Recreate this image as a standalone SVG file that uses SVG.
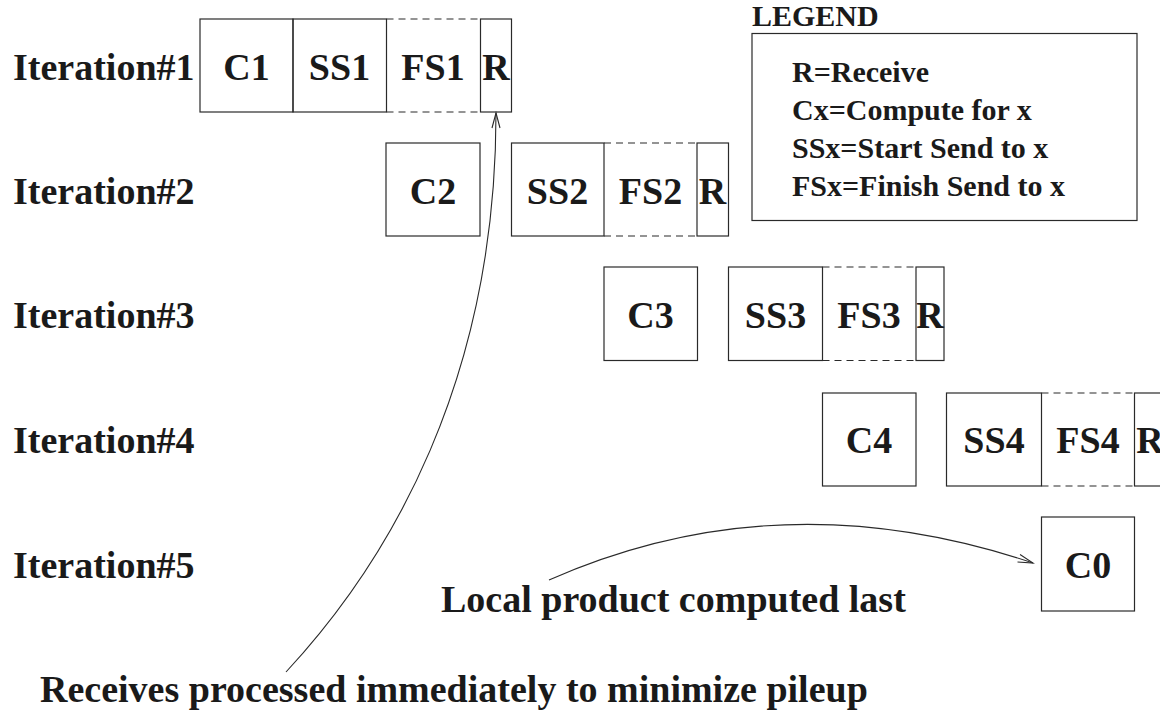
<svg xmlns="http://www.w3.org/2000/svg" width="1160" height="715" viewBox="0 0 1160 715">
  <style>
    .bg { fill: #ffffff; }
    .box { fill: none; stroke: #2a2a2a; stroke-width: 1.2; }
    .dash { fill: none; stroke: #2a2a2a; stroke-width: 1.2; stroke-dasharray: 7 5; }
    .lbl { font-family: "Liberation Serif", "Times New Roman", serif; font-weight: bold; font-size: 38px; fill: #1a1a1a; }
    .mid { text-anchor: middle; }
    .leg { font-family: "Liberation Serif", "Times New Roman", serif; font-weight: bold; font-size: 30px; fill: #1a1a1a; }
    .conn { fill: none; stroke: #2a2a2a; stroke-width: 1.1; }
  </style>
  <defs>
    <marker id="openArrow" markerUnits="userSpaceOnUse" markerWidth="18" markerHeight="10" refX="15" refY="4" orient="auto" overflow="visible">
      <path d="M0,0 L15,4 L0,8" fill="none" stroke="#2a2a2a" stroke-width="1.1"/>
    </marker>
  </defs>

  <rect class="bg" x="0" y="0" width="1160" height="715"/>

  <!-- row labels -->
  <g id="row-labels">
    <text class="lbl" x="13" y="80">Iteration#1</text>
    <text class="lbl" x="13" y="204">Iteration#2</text>
    <text class="lbl" x="13" y="328">Iteration#3</text>
    <text class="lbl" x="13" y="453">Iteration#4</text>
    <text class="lbl" x="13" y="578">Iteration#5</text>
  </g>

  <!-- iteration 1 -->
  <g id="c1"><rect class="box" x="200" y="19" width="93" height="93"/><text class="lbl mid" x="246.5" y="80">C1</text></g>
  <g id="ss1"><rect class="box" x="293" y="19" width="93.5" height="93"/><text class="lbl mid" x="339.5" y="80">SS1</text></g>
  <g id="fs1"><path class="dash" d="M386.5,19 H480.5 M386.5,112 H480.5"/><text class="lbl mid" x="433" y="80">FS1</text></g>
  <g id="r1"><rect class="box" x="480.5" y="19" width="31" height="93"/><text class="lbl mid" x="496" y="80">R</text></g>

  <!-- iteration 2 -->
  <g id="c2"><rect class="box" x="386" y="143" width="94" height="93"/><text class="lbl mid" x="433" y="204">C2</text></g>
  <g id="ss2"><rect class="box" x="511.5" y="143" width="92.5" height="93"/><text class="lbl mid" x="557.5" y="204">SS2</text></g>
  <g id="fs2"><path class="dash" d="M604,143 H697 M604,236 H697"/><text class="lbl mid" x="650.5" y="204">FS2</text></g>
  <g id="r2"><rect class="box" x="697" y="143" width="31.5" height="93"/><text class="lbl mid" x="712.5" y="204">R</text></g>

  <!-- iteration 3 -->
  <g id="c3"><rect class="box" x="604" y="267" width="93.5" height="93.5"/><text class="lbl mid" x="650.5" y="328">C3</text></g>
  <g id="ss3"><rect class="box" x="728.5" y="267" width="94" height="93.5"/><text class="lbl mid" x="775.5" y="328">SS3</text></g>
  <g id="fs3"><path class="dash" d="M822.5,267 H916 M822.5,360.5 H916"/><text class="lbl mid" x="869" y="328">FS3</text></g>
  <g id="r3"><rect class="box" x="916" y="267" width="28" height="93.5"/><text class="lbl mid" x="930" y="328">R</text></g>

  <!-- iteration 4 -->
  <g id="c4"><rect class="box" x="822.5" y="393" width="93.5" height="93"/><text class="lbl mid" x="869" y="453">C4</text></g>
  <g id="ss4"><rect class="box" x="946.5" y="393" width="95" height="93"/><text class="lbl mid" x="994" y="453">SS4</text></g>
  <g id="fs4"><path class="dash" d="M1041.5,393 H1134.5 M1041.5,486 H1134.5"/><text class="lbl mid" x="1088" y="453">FS4</text></g>
  <g id="r4"><rect class="box" x="1134.5" y="393" width="31" height="93"/><text class="lbl mid" x="1150" y="453">R</text></g>

  <!-- iteration 5 -->
  <g id="c0"><rect class="box" x="1041.5" y="517" width="93" height="94"/><text class="lbl mid" x="1088" y="578">C0</text></g>

  <!-- legend -->
  <g id="legend">
    <text class="leg" x="752" y="26">LEGEND</text>
    <rect class="box" x="752" y="33.5" width="385" height="187"/>
    <text class="leg" x="792" y="82">R=Receive</text>
    <text class="leg" x="792" y="120">Cx=Compute for x</text>
    <text class="leg" x="792" y="158">SSx=Start Send to x</text>
    <text class="leg" x="792" y="196">FSx=Finish Send to x</text>
  </g>

  <!-- annotations -->
  <g id="note-local"><text class="lbl" x="441" y="612">Local product computed last</text></g>
  <g id="note-receives"><text class="lbl" x="40" y="702">Receives processed immediately to minimize pileup</text></g>

  <!-- connectors -->
  <g id="connectors">
    <path class="conn" d="M286,672 C390,560 496,380 496,113" marker-end="url(#openArrow)"/>
    <path class="conn" d="M549,580 Q780,478 1033,563" marker-end="url(#openArrow)"/>
  </g>
</svg>
